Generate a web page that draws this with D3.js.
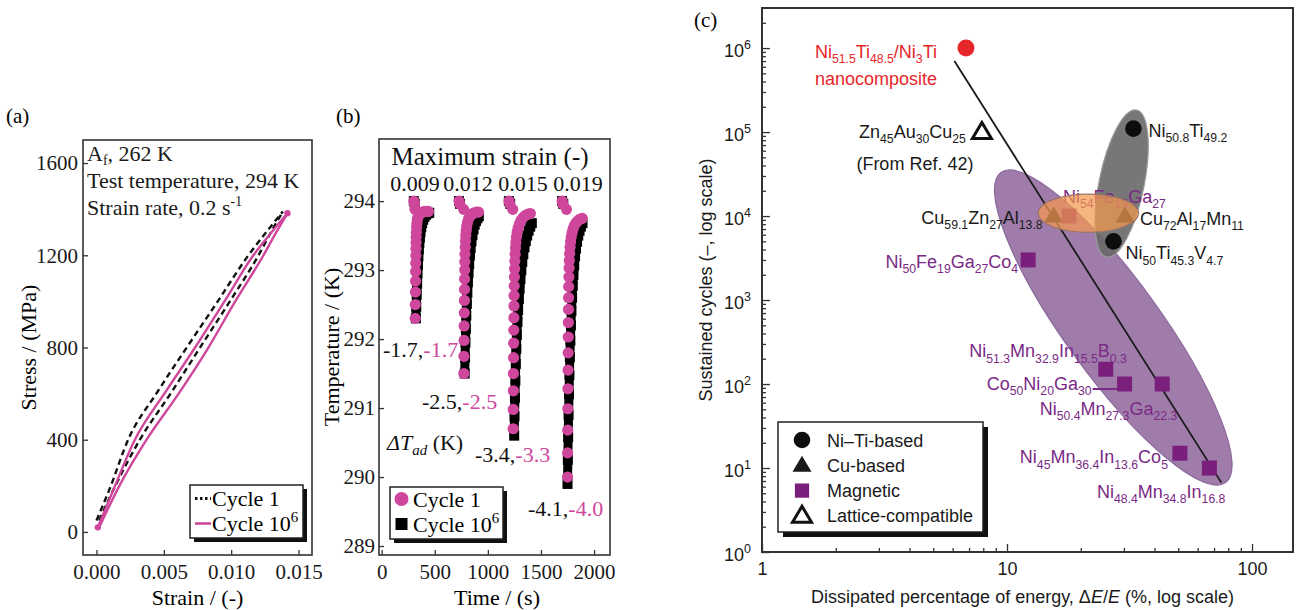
<!DOCTYPE html>
<html>
<head>
<meta charset="utf-8">
<script src="https://cdn.jsdelivr.net/npm/d3@7"></script>
<style>
  body { margin: 0; background: #fff; }
  svg { display: block; }
</style>
</head>
<body>
<svg id="fig" width="1298" height="610"></svg>
<script>
// ===================== data =====================

// (a) stress–strain loops, [strain, stress MPa]
const strainTicks = [0, 0.005, 0.010, 0.015];
const stressTicks = [0, 400, 800, 1200, 1600];
const loadCycle1 = [[0.0000, 50], [0.0010, 190], [0.00235, 400], [0.0045, 605], [0.0067, 800],
  [0.0090, 1000], [0.01128, 1200], [0.0126, 1300], [0.01384, 1390]];
const unloadCycle1 = [[0.01384, 1390], [0.01295, 1300], [0.01203, 1200], [0.0099, 1000], [0.00769, 800],
  [0.0055, 600], [0.00322, 400], [0.0014, 200], [0.0002, 50]];
const loadCycleMillion = [[0.0001, 20], [0.0012, 175], [0.00285, 400], [0.0051, 605], [0.00732, 800],
  [0.0095, 1000], [0.01165, 1200], [0.0130, 1300], [0.01418, 1382]];
const unloadCycleMillion = [[0.01418, 1382], [0.01335, 1300], [0.0124, 1200], [0.0103, 1000], [0.00831, 800],
  [0.0061, 600], [0.00372, 400], [0.0017, 200], [0.0002, 20]];

// (b) temperature after unloading, [time s, temperature K]
const timeTicks = [0, 500, 1000, 1500, 2000];
const tempTicks = [289, 290, 291, 292, 293, 294];
const maxStrainLabels = ["0.009", "0.012", "0.015", "0.019"];
const dTadCycleMillion = ["-1.7", "-2.5", "-3.4", "-4.1"];
const dTadCycle1 = ["-1.7", "-2.5", "-3.3", "-4.0"];

const spike1Cycle1 = [[303,294.0],[310,293.96],[314,293.88],[316,292.3],[317,292.5],[318,292.68],[319,292.84],[320,292.98],[321,293.1],[322,293.21],[323,293.31],[324,293.4],[325,293.48],[327,293.55],[329,293.62],[332,293.68],[336,293.73],[342,293.77],[352,293.8],[366,293.82],[384,293.84],[404,293.85],[424,293.85],[440,293.85]];
const spike1CycleMillion = [[303,294.0],[312,293.96],[322,292.3],[326,292.47],[330,292.64],[334,292.8],[338,292.95],[342,293.08],[346,293.2],[350,293.3],[355,293.39],[360,293.47],[366,293.55],[373,293.62],[381,293.68],[391,293.73],[403,293.77],[417,293.8],[432,293.82],[448,293.83]];

const spike2Cycle1 = [[728,294.0],[735,293.96],[772,293.88],[774,291.5],[775,291.75],[776,291.98],[777,292.19],[778,292.38],[779,292.56],[780,292.72],[781,292.87],[782,293.0],[783,293.12],[785,293.23],[787,293.33],[789,293.42],[792,293.5],[796,293.57],[801,293.63],[808,293.69],[818,293.74],[832,293.78],[850,293.81],[870,293.83],[892,293.84],[912,293.84]];
const spike2CycleMillion = [[728,294.0],[738,293.96],[782,291.5],[785,291.73],[789,291.95],[793,292.15],[797,292.34],[802,292.51],[807,292.67],[812,292.82],[818,292.96],[824,293.09],[831,293.21],[838,293.32],[846,293.42],[855,293.51],[865,293.59],[876,293.66],[888,293.71],[901,293.75],[915,293.78]];

const spike3Cycle1 = [[1198,294.0],[1206,293.96],[1234,293.88],[1238,290.7],[1239,290.98],[1240,291.25],[1241,291.5],[1242,291.73],[1243,291.94],[1244,292.13],[1245,292.31],[1246,292.48],[1247,292.63],[1248,292.77],[1250,292.9],[1252,293.02],[1254,293.13],[1257,293.23],[1260,293.32],[1264,293.4],[1269,293.48],[1276,293.55],[1285,293.61],[1297,293.67],[1312,293.72],[1330,293.76],[1352,293.79],[1376,293.81],[1400,293.82]];
const spike3CycleMillion = [[1198,294.0],[1210,293.96],[1248,290.6],[1251,290.88],[1255,291.15],[1259,291.4],[1263,291.64],[1268,291.86],[1273,292.06],[1279,292.25],[1285,292.42],[1292,292.58],[1299,292.73],[1307,292.87],[1315,293.0],[1324,293.12],[1334,293.23],[1345,293.33],[1357,293.42],[1370,293.5],[1384,293.57],[1399,293.63],[1414,293.68]];

const spike4Cycle1 = [[1699,294.0],[1706,293.96],[1740,293.88],[1750,290.0],[1751,290.35],[1752,290.68],[1753,290.99],[1754,291.28],[1755,291.55],[1756,291.8],[1757,292.03],[1758,292.24],[1759,292.43],[1760,292.6],[1761,292.76],[1763,292.9],[1765,293.03],[1767,293.14],[1770,293.24],[1774,293.33],[1779,293.41],[1785,293.48],[1793,293.54],[1803,293.6],[1816,293.65],[1832,293.69],[1851,293.72],[1870,293.74],[1889,293.75]];
const spike4CycleMillion = [[1699,294.0],[1710,293.96],[1750,289.9],[1753,290.25],[1756,290.58],[1760,290.9],[1764,291.2],[1768,291.48],[1772,291.74],[1777,291.98],[1782,292.2],[1787,292.41],[1793,292.6],[1799,292.77],[1806,292.93],[1813,293.07],[1821,293.2],[1830,293.31],[1840,293.41],[1851,293.5],[1863,293.57],[1876,293.63],[1891,293.68]];

// (c) fatigue life vs. dissipated energy
const dissipationTicks = [1, 10, 100];
const cycleTicks = [1, 10, 100, 1e3, 1e4, 1e5, 1e6];
const alloyNames = [
  "Ni_{51.5}Ti_{48.5}/Ni_{3}Ti",
  "Zn_{45}Au_{30}Cu_{25}",
  "Ni_{50.8}Ti_{49.2}",
  "Ni_{50}Ti_{45.3}V_{4.7}",
  "Cu_{72}Al_{17}Mn_{11}",
  "Cu_{59.1}Zn_{27}Al_{13.8}",
  "Ni_{54}Fe_{19}Ga_{27}",
  "Ni_{50}Fe_{19}Ga_{27}Co_{4}",
  "Ni_{51.3}Mn_{32.9}In_{15.5}B_{0.3}",
  "Co_{50}Ni_{20}Ga_{30}",
  "Ni_{50.4}Mn_{27.3}Ga_{22.3}",
  "Ni_{45}Mn_{36.4}In_{13.6}Co_{5}",
  "Ni_{48.4}Mn_{34.8}In_{16.8}"
];
const alloyDissipation = [6.8, 7.9, 32.8, 27.2, 30.3, 15.5, 17.9, 12.2, 25.3, 30.2, 43, 50.8, 67];
const alloyCycles = [1e6, 1e5, 1.1e5, 5e3, 1e4, 1e4, 1e4, 3e3, 150, 100, 100, 15, 10];
const alloyClass = ["composite", "lattice", "niti", "niti", "cu", "cu", "magnetic", "magnetic",
                    "magnetic", "magnetic", "magnetic", "magnetic", "magnetic"];
const classLegend = [["niti", "Ni\u2013Ti-based"], ["cu", "Cu-based"], ["magnetic", "Magnetic"], ["lattice", "Lattice-compatible"]];

// family regions: major-axis end points [ΔE/E, cycles] and minor/major ratio
const magneticRegion = { from: [9.45, 3.3e4], to: [78, 6.7], ratio: 0.25 };
const nitiRegion = { from: [33.8, 1.83e5], to: [25.5, 3.25e3], ratio: 0.3 };
const cuRegion = { from: [13.4, 1.08e4], to: [34.4, 1.08e4], ratio: 0.38 };
// trend line
const trendFrom = [6.1, 7.0e5];
const trendTo = [75, 6.7];

// ===================== drawing =====================
const svg = d3.select("#fig");
const serif = "'Liberation Serif', 'Times New Roman', serif";
const sans = "'Liberation Sans', Arial, Helvetica, sans-serif";
const PINK = "#cf479d";
const FRAME = "#333";
const PURPLE = "#7a2a86";

// text with _{sub} and ^{sup} runs
function rich(sel, str, size, scale = 0.68, subShift = 0.3) {
  const re = /_\{([^}]*)\}|\^\{([^}]*)\}|([^_^]+)/g;
  let m, cur = 0;
  while ((m = re.exec(str)) !== null) {
    let s, off, fs;
    if (m[1] !== undefined) { s = m[1]; off = subShift * size; fs = size * scale; }
    else if (m[2] !== undefined) { s = m[2]; off = -0.42 * size; fs = size * scale; }
    else { s = m[3]; off = 0; fs = size; }
    sel.append("tspan").attr("dy", off - cur).attr("font-size", fs).text(s);
    cur = off;
  }
  return sel;
}

function styleAxis(g, family, size) {
  g.select(".domain").remove();
  g.selectAll("text").attr("font-family", family).attr("font-size", size).attr("fill", "#1a1a1a");
  g.selectAll("line").attr("stroke", FRAME).attr("stroke-width", 1.3);
}

function shadowBox(g, x0, y0, x1, y1, off) {
  g.append("rect").attr("x", x0 + off).attr("y", y0 + off).attr("width", x1 - x0).attr("height", y1 - y0).attr("fill", "#111");
  g.append("rect").attr("x", x0).attr("y", y0).attr("width", x1 - x0).attr("height", y1 - y0)
    .attr("fill", "#fff").attr("stroke", "#222").attr("stroke-width", 1.5);
}

// ---------- panel (a) ----------
{
  const A = { l: 83, r: 312, t: 140, b: 555 };
  const x = d3.scaleLinear().domain([-0.001, 0.016]).range([A.l, A.r]);
  const y = d3.scaleLinear().domain([-100, 1700]).range([A.b, A.t]);
  const g = svg.append("g");

  g.append("text").attr("x", 6).attr("y", 123).attr("font-family", serif).attr("font-size", 21).text("(a)");

  g.append("g").attr("transform", `translate(0,${A.b})`)
    .call(d3.axisBottom(x).tickValues(strainTicks).tickFormat(d3.format(".3f")).tickSizeInner(-5).tickSizeOuter(0).tickPadding(9))
    .call(a => styleAxis(a, serif, 21));
  g.append("g").attr("transform", `translate(${A.l},0)`)
    .call(d3.axisLeft(y).tickValues(stressTicks).tickFormat(d3.format("d")).tickSizeInner(-5).tickSizeOuter(0).tickPadding(5))
    .call(a => styleAxis(a, serif, 21));

  // each branch is drawn in increasing strain so the monotone curve does not overshoot
  const line = d3.line().x(d => x(d[0])).y(d => y(d[1])).curve(d3.curveMonotoneX);
  const asc = b => b.slice().sort((p, q) => p[0] - q[0]);
  [loadCycle1, unloadCycle1].forEach(b => g.append("path").attr("d", line(asc(b))).attr("fill", "none")
    .attr("stroke", "#111").attr("stroke-width", 2.4).attr("stroke-dasharray", "6,4"));
  [loadCycleMillion, unloadCycleMillion].forEach(b => g.append("path").attr("d", line(asc(b))).attr("fill", "none")
    .attr("stroke", PINK).attr("stroke-width", 2.4));
  const ends = [loadCycleMillion[0], loadCycleMillion[loadCycleMillion.length - 1]];
  g.selectAll(".endpt").data(ends).join("circle").attr("cx", d => x(d[0])).attr("cy", d => y(d[1])).attr("r", 3.2).attr("fill", PINK);

  g.append("rect").attr("x", A.l).attr("y", A.t).attr("width", A.r - A.l).attr("height", A.b - A.t)
    .attr("fill", "none").attr("stroke", FRAME).attr("stroke-width", 1.6);

  const notes = ["A_{f}, 262 K", "Test temperature, 294 K", "Strain rate, 0.2 s^{-1}"];
  notes.forEach((s, i) => {
    rich(g.append("text").attr("x", A.l + 4).attr("y", A.t + 21 + i * 27).attr("font-family", serif).attr("fill", "#1a1a1a"), s, 22, 0.62, 0.2);
  });

  // legend
  shadowBox(g, 190, 485, 303, 538, 4);
  g.append("line").attr("x1", 195).attr("x2", 211).attr("y1", 498.5).attr("y2", 498.5).attr("stroke", "#111").attr("stroke-width", 3).attr("stroke-dasharray", "2.5,2.5");
  g.append("line").attr("x1", 195).attr("x2", 211).attr("y1", 523.5).attr("y2", 523.5).attr("stroke", PINK).attr("stroke-width", 2.6);
  rich(g.append("text").attr("x", 212).attr("y", 506).attr("font-family", serif), "Cycle 1", 22);
  rich(g.append("text").attr("x", 212).attr("y", 531).attr("font-family", serif), "Cycle 10^{6}", 22);

  g.append("text").attr("transform", `translate(36,${(A.t + A.b) / 2}) rotate(-90)`).attr("text-anchor", "middle")
    .attr("font-family", serif).attr("font-size", 22).text("Stress / (MPa)");
  g.append("text").attr("x", (A.l + A.r) / 2).attr("y", 605).attr("text-anchor", "middle")
    .attr("font-family", serif).attr("font-size", 22).text("Strain / (-)");
}

// ---------- panel (b) ----------
{
  const B = { l: 379, r: 610, t: 139, b: 555 };
  const x = d3.scaleLinear().domain([-25, 2150]).range([B.l, B.r]);
  const y = d3.scaleLinear().domain([288.87, 294.9]).range([B.b, B.t]);
  const g = svg.append("g");

  g.append("text").attr("x", 336).attr("y", 123).attr("font-family", serif).attr("font-size", 21).text("(b)");

  g.append("g").attr("transform", `translate(0,${B.b})`)
    .call(d3.axisBottom(x).tickValues(timeTicks).tickFormat(d3.format("d")).tickSizeInner(-5).tickSizeOuter(0).tickPadding(9))
    .call(a => styleAxis(a, serif, 21));
  g.append("g").attr("transform", `translate(${B.l},0)`)
    .call(d3.axisLeft(y).tickValues(tempTicks).tickFormat(d3.format("d")).tickSizeInner(-5).tickSizeOuter(0).tickPadding(4))
    .call(a => styleAxis(a, serif, 21));

  g.append("clipPath").attr("id", "clipB").append("rect")
    .attr("x", B.l).attr("y", B.t).attr("width", B.r - B.l).attr("height", B.b - B.t);
  const plot = g.append("g").attr("clip-path", "url(#clipB)");

  const millionSeries = [spike1CycleMillion, spike2CycleMillion, spike3CycleMillion, spike4CycleMillion];
  const firstSeries = [spike1Cycle1, spike2Cycle1, spike3Cycle1, spike4Cycle1];
  const line = d3.line().x(d => x(d[0])).y(d => y(d[1]));
  millionSeries.forEach(s => {
    plot.append("path").attr("d", line(s.slice(2))).attr("fill", "none").attr("stroke", "#000").attr("stroke-width", 9);
    plot.append("g").selectAll("rect").data(s).join("rect")
      .attr("x", d => x(d[0]) - 5).attr("y", d => y(d[1]) - 5).attr("width", 10).attr("height", 10).attr("fill", "#000");
  });
  firstSeries.forEach(s => {
    plot.append("g").selectAll("circle").data(s).join("circle")
      .attr("cx", d => x(d[0])).attr("cy", d => y(d[1])).attr("r", 5.6).attr("fill", PINK);
  });

  g.append("rect").attr("x", B.l).attr("y", B.t).attr("width", B.r - B.l).attr("height", B.b - B.t)
    .attr("fill", "none").attr("stroke", FRAME).attr("stroke-width", 1.6);

  g.append("text").attr("x", 490).attr("y", 165).attr("text-anchor", "middle").attr("font-family", serif)
    .attr("font-size", 25).attr("fill", "#111").text("Maximum strain (-)");
  const strainLabelX = [415, 468, 523, 578];
  maxStrainLabels.forEach((s, i) => {
    g.append("text").attr("x", strainLabelX[i]).attr("y", 191).attr("text-anchor", "middle")
      .attr("font-family", serif).attr("font-size", 22).attr("fill", "#111").text(s);
  });

  const dtPos = [[383, 357], [422, 409], [475, 462], [528, 516]];
  dtPos.forEach((p, i) => {
    const t = g.append("text").attr("x", p[0]).attr("y", p[1]).attr("font-family", serif).attr("font-size", 22);
    t.append("tspan").attr("fill", "#111").text(dTadCycleMillion[i] + ",");
    t.append("tspan").attr("fill", PINK).text(dTadCycle1[i]);
  });

  const dt = g.append("text").attr("x", 387).attr("y", 450).attr("font-family", serif).attr("font-size", 22).attr("fill", "#111");
  dt.append("tspan").attr("font-style", "italic").text("\u0394T");
  dt.append("tspan").attr("font-style", "italic").attr("font-size", 15).attr("dy", 5).text("ad");
  dt.append("tspan").attr("dy", -5).text(" (K)");

  // legend
  shadowBox(g, 390, 487, 503, 539, 4);
  g.append("circle").attr("cx", 401.5).attr("cy", 499).attr("r", 7).attr("fill", PINK);
  g.append("rect").attr("x", 395.5).attr("y", 518).attr("width", 12).attr("height", 12).attr("fill", "#000");
  rich(g.append("text").attr("x", 413).attr("y", 507).attr("font-family", serif), "Cycle 1", 22);
  rich(g.append("text").attr("x", 413).attr("y", 532).attr("font-family", serif), "Cycle 10^{6}", 22);

  g.append("text").attr("transform", `translate(339,${(B.t + B.b) / 2}) rotate(-90)`).attr("text-anchor", "middle")
    .attr("font-family", serif).attr("font-size", 22).text("Temperature / (K)");
  g.append("text").attr("x", 497).attr("y", 605).attr("text-anchor", "middle")
    .attr("font-family", serif).attr("font-size", 22).text("Time / (s)");
}

// ---------- panel (c) ----------
{
  const C = { l: 762, r: 1293, t: 8, b: 552 };
  const x = d3.scaleLog().domain([1, 147]).range([C.l, C.r]);
  const y = d3.scaleLog().domain([1, 3e6]).range([C.b, C.t]);
  const g = svg.append("g");

  g.append("text").attr("x", 694).attr("y", 27).attr("font-family", serif).attr("font-size", 21).text("(c)");

  // minor ticks
  const xMinor = d3.range(1, 4).flatMap(e => d3.range(2, 10).map(k => k * 10 ** (e - 1))).filter(v => v < 147);
  const yMinor = d3.range(0, 7).flatMap(e => d3.range(2, 10).map(k => k * 10 ** e)).filter(v => v < 3e6);
  g.append("g").attr("transform", `translate(0,${C.b})`)
    .call(d3.axisBottom(x).tickValues(xMinor).tickFormat("").tickSizeInner(-4).tickSizeOuter(0))
    .call(a => styleAxis(a, sans, 18));
  g.append("g").attr("transform", `translate(${C.l},0)`)
    .call(d3.axisLeft(y).tickValues(yMinor).tickFormat("").tickSizeInner(-4).tickSizeOuter(0))
    .call(a => styleAxis(a, sans, 18));
  g.append("g").attr("transform", `translate(0,${C.b})`)
    .call(d3.axisBottom(x).tickValues(dissipationTicks).tickFormat(d3.format("d")).tickSizeInner(-8).tickSizeOuter(0).tickPadding(10))
    .call(a => styleAxis(a, sans, 18));
  g.append("g").attr("transform", `translate(${C.l},0)`)
    .call(d3.axisLeft(y).tickValues(cycleTicks).tickSizeInner(-8).tickSizeOuter(0).tickPadding(11))
    .call(a => {
      styleAxis(a, sans, 18);
      a.selectAll("text").each(function (d) {
        const t = d3.select(this).text(null).attr("dy", "0.45em");
        t.append("tspan").text("10");
        t.append("tspan").attr("dy", -8).attr("font-size", 12.5).text(Math.round(Math.log10(d)));
      });
    });

  // family regions
  function region(r, fill, stroke, opacity) {
    const p0 = [x(r.from[0]), y(r.from[1])], p1 = [x(r.to[0]), y(r.to[1])];
    const cx = (p0[0] + p1[0]) / 2, cy = (p0[1] + p1[1]) / 2;
    const a = Math.hypot(p1[0] - p0[0], p1[1] - p0[1]) / 2;
    const ang = Math.atan2(p1[1] - p0[1], p1[0] - p0[0]) * 180 / Math.PI;
    return g.append("ellipse").attr("cx", 0).attr("cy", 0).attr("rx", a).attr("ry", a * r.ratio)
      .attr("transform", `translate(${cx},${cy}) rotate(${ang})`)
      .attr("fill", fill).attr("fill-opacity", opacity).attr("stroke", stroke).attr("stroke-width", 1.2);
  }
  region(magneticRegion, "#a07cab", "#8a679b", 1);
  region(nitiRegion, "#686868", "#9a9a9a", 0.9);

  g.append("line").attr("x1", x(trendFrom[0])).attr("y1", y(trendFrom[1])).attr("x2", x(trendTo[0])).attr("y2", y(trendTo[1]))
    .attr("stroke", "#1a1a1a").attr("stroke-width", 1.8);

  // labels
  const labelLayout = [
    [-90, 10, "middle"], [-16, 6, "end"], [15, 8, "start"], [12, 18, "start"], [15, 9, "start"],
    [-11, 8, "end"], [-6, -13, "start"], [-10, 8, "end"], [21, -12, "end"], [-33, 6, "end"],
    [15, 31, "end"], [-12, 10, "end"], [16, 30, "end"]
  ];
  const labelColor = c => c === "composite" ? "#e5262b" : (c === "magnetic" ? PURPLE : "#1a1a1a");
  alloyNames.forEach((name, i) => {
    const [dx, dy, anchor] = labelLayout[i];
    const px = x(alloyDissipation[i]) + dx, py = y(alloyCycles[i]) + dy;
    rich(g.append("text").attr("x", px).attr("y", py).attr("text-anchor", anchor).attr("font-family", sans)
      .attr("fill", labelColor(alloyClass[i])), name, 18);
  });
  // second lines
  g.append("text").attr("x", x(alloyDissipation[0]) - 90).attr("y", y(alloyCycles[0]) + 37).attr("text-anchor", "middle")
    .attr("font-family", sans).attr("font-size", 18).attr("fill", "#e5262b").text("nanocomposite");
  g.append("text").attr("x", x(alloyDissipation[1]) - 67).attr("y", y(alloyCycles[1]) + 38).attr("text-anchor", "middle")
    .attr("font-family", sans).attr("font-size", 18).attr("fill", "#1a1a1a").text("(From Ref. 42)");
  // leader for Co50Ni20Ga30
  g.append("line").attr("x1", x(alloyDissipation[9]) - 32).attr("x2", x(alloyDissipation[9]) - 7)
    .attr("y1", y(alloyCycles[9]) + 5).attr("y2", y(alloyCycles[9]) + 5).attr("stroke", PURPLE).attr("stroke-width", 2);

  // markers
  function marker(sel, cls, cx, cy, scale = 1) {
    if (cls === "niti") return sel.append("circle").attr("cx", cx).attr("cy", cy).attr("r", 8.3 * scale).attr("fill", "#0d0d0d");
    if (cls === "composite") return sel.append("circle").attr("cx", cx).attr("cy", cy).attr("r", 8.5 * scale).attr("fill", "#e5262b");
    if (cls === "magnetic") return sel.append("rect").attr("x", cx - 7.5 * scale).attr("y", cy - 7.5 * scale)
      .attr("width", 15 * scale).attr("height", 15 * scale).attr("fill", "#7a1f7c");
    const w = 19 * scale, h = 16 * scale;
    const d = `M${cx},${cy - h * 0.6}L${cx + w / 2},${cy + h * 0.4}L${cx - w / 2},${cy + h * 0.4}Z`;
    if (cls === "cu") return sel.append("path").attr("d", d).attr("fill", "#1a1a1a");
    return sel.append("path").attr("d", d).attr("fill", "#fff").attr("stroke", "#111").attr("stroke-width", 3).attr("stroke-linejoin", "miter");
  }
  alloyNames.forEach((n, i) => marker(g, alloyClass[i], x(alloyDissipation[i]), y(alloyCycles[i])));

  region(cuRegion, "#f4984f", "#9c7466", 0.72);

  g.append("rect").attr("x", C.l).attr("y", C.t).attr("width", C.r - C.l).attr("height", C.b - C.t)
    .attr("fill", "none").attr("stroke", FRAME).attr("stroke-width", 2);

  // legend
  shadowBox(g, 778, 422, 983, 532, 5);
  classLegend.forEach(([cls, label], i) => {
    const cy = 440 + i * 25.3;
    marker(g, cls, 802, cy, cls === "magnetic" ? 0.95 : 1);
    g.append("text").attr("x", 827).attr("y", cy + 6.5).attr("font-family", sans).attr("font-size", 18).attr("fill", "#1a1a1a").text(label);
  });

  g.append("text").attr("transform", `translate(712,${(C.t + C.b) / 2}) rotate(-90)`).attr("text-anchor", "middle")
    .attr("font-family", sans).attr("font-size", 18).attr("fill", "#1a1a1a").text("Sustained cycles (\u2013, log scale)");
  const xl = g.append("text").attr("x", (C.l + C.r) / 2 - 5).attr("y", 603).attr("text-anchor", "middle")
    .attr("font-family", sans).attr("font-size", 18).attr("fill", "#1a1a1a");
  xl.append("tspan").text("Dissipated percentage of energy, \u0394");
  xl.append("tspan").attr("font-style", "italic").text("E");
  xl.append("tspan").text("/");
  xl.append("tspan").attr("font-style", "italic").text("E");
  xl.append("tspan").text(" (%, log scale)");
}
</script>
</body>
</html>
